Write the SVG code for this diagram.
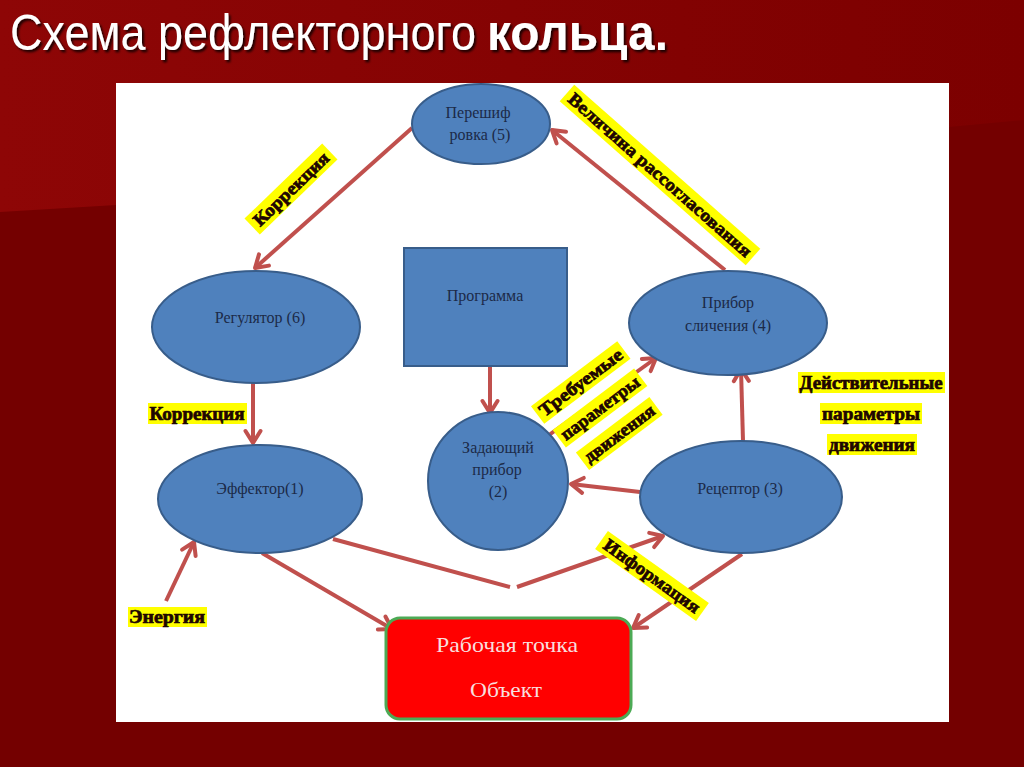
<svg xmlns="http://www.w3.org/2000/svg" width="1024" height="767" viewBox="0 0 1024 767">
<defs>
<linearGradient id="bgTop" x1="0" y1="0" x2="1" y2="0">
<stop offset="0" stop-color="#8e0606"/>
<stop offset="1" stop-color="#7c0000"/>
</linearGradient>
<marker id="ah" markerUnits="userSpaceOnUse" markerWidth="20" markerHeight="20" refX="15" refY="10" orient="auto" viewBox="0 0 20 20">
<path d="M3,2.5 L15,10 L3,17.5" fill="none" stroke="#c0504d" stroke-width="4" stroke-linecap="round" stroke-linejoin="round"/>
</marker>
<filter id="tsh" x="-5%" y="-20%" width="110%" height="140%">
<feDropShadow dx="2" dy="2" stdDeviation="1" flood-color="#000" flood-opacity="0.8"/>
</filter>
</defs>
<style>
.ell{fill:#4f81bd;stroke:#385d8a;stroke-width:2}
.nt{font-family:"Liberation Serif",serif;font-size:16px;fill:#1c2a48;text-anchor:middle}
.conn{fill:none;stroke:#c0504d;stroke-width:4}
.hl{fill:#ffff00}
.lb{font-family:"Liberation Serif",serif;font-weight:bold;font-size:18px;fill:#1e0600;stroke:#1e0600;stroke-width:0.7;text-anchor:middle}
.title{font-family:"Liberation Sans",sans-serif;font-size:45px;fill:#ffffff}
</style>
<rect x="0" y="0" width="1024" height="767" fill="#740000"/>
<polygon points="0,0 1024,0 1024,120 116,205 0,212" fill="url(#bgTop)"/>
<rect x="116" y="83" width="833" height="639" fill="#ffffff"/>

<g id="title" filter="url(#tsh)" transform="translate(0,50) scale(1,1.12)">
<text class="title" x="10" y="0">Схема рефлекторного</text>
<text class="title" x="487" y="0" font-weight="bold" textLength="181" lengthAdjust="spacingAndGlyphs">кольца.</text>
</g>

<g id="connectors">
<path class="conn" d="M412,128 L255,268" marker-end="url(#ah)"/>
<path class="conn" d="M725,270 L552,130" marker-end="url(#ah)"/>
<path class="conn" d="M253,383 L253,443" marker-end="url(#ah)"/>
<path class="conn" d="M490,366 L490,413" marker-end="url(#ah)"/>
<path class="conn" d="M549,435 L656,358" marker-end="url(#ah)"/>
<path class="conn" d="M743,441 L741,369" marker-end="url(#ah)"/>
<path class="conn" d="M640,492 L571,484" marker-end="url(#ah)"/>
<path class="conn" d="M333,539 L510,587"/>
<path class="conn" d="M517,587 L663,536" marker-end="url(#ah)"/>
<path class="conn" d="M262,553 L392,629" marker-end="url(#ah)"/>
<path class="conn" d="M742,554 L633,628" marker-end="url(#ah)"/>
<path class="conn" d="M166,601 L194,542" marker-end="url(#ah)"/>
</g>

<g id="node5">
<ellipse class="ell" cx="481" cy="124" rx="69" ry="40"/>
<text class="nt" x="478" y="118">Перешиф</text>
<text class="nt" x="480" y="140">ровка (5)</text>
</g>
<g id="node6">
<ellipse class="ell" cx="256" cy="327" rx="104" ry="56"/>
<text class="nt" x="260" y="323">Регулятор (6)</text>
</g>
<g id="program">
<rect x="404" y="248" width="163" height="118" fill="#4f81bd" stroke="#385d8a" stroke-width="2"/>
<text class="nt" x="485" y="301">Программа</text>
</g>
<g id="node4">
<ellipse class="ell" cx="728" cy="323" rx="99" ry="52"/>
<text class="nt" x="728" y="308">Прибор</text>
<text class="nt" x="728" y="331">сличения (4)</text>
</g>
<g id="node1">
<ellipse class="ell" cx="260" cy="499" rx="102" ry="54"/>
<text class="nt" x="260" y="494">Эффектор(1)</text>
</g>
<g id="node2">
<ellipse class="ell" cx="498" cy="481" rx="70" ry="69"/>
<text class="nt" x="498" y="453">Задающий</text>
<text class="nt" x="497" y="475">прибор</text>
<text class="nt" x="498" y="497">(2)</text>
</g>
<g id="node3">
<ellipse class="ell" cx="741" cy="497" rx="101" ry="56"/>
<text class="nt" x="740" y="494">Рецептор (3)</text>
</g>
<g id="object">
<rect x="386" y="618" width="245" height="101" rx="14" fill="#ff0000" stroke="#4caa55" stroke-width="3"/>
<text x="507" y="652" font-family="Liberation Serif, serif" font-size="22" fill="#f8dede" text-anchor="middle" textLength="142" lengthAdjust="spacingAndGlyphs">Рабочая точка</text>
<text x="506" y="697" font-family="Liberation Serif, serif" font-size="22" fill="#f8dede" text-anchor="middle" textLength="72" lengthAdjust="spacingAndGlyphs">Объект</text>
</g>

<g id="labels">
<g transform="translate(291,189) rotate(-44)">
<rect class="hl" x="-54" y="-11" width="108" height="22"/>
<text class="lb" x="0" y="6" textLength="98" lengthAdjust="spacingAndGlyphs">Коррекция</text>
</g>
<g transform="translate(660,175) rotate(41.4)">
<rect class="hl" x="-124" y="-11" width="248" height="22"/>
<text class="lb" x="0" y="6" textLength="238" lengthAdjust="spacingAndGlyphs">Величина рассогласования</text>
</g>
<g transform="translate(600,408) rotate(-37)">
<rect class="hl" x="-54" y="-43" width="108" height="22"/>
<text class="lb" x="0" y="-26" textLength="100" lengthAdjust="spacingAndGlyphs">Требуемые</text>
<rect class="hl" x="-51" y="-11" width="102" height="22"/>
<text class="lb" x="0" y="6" textLength="94" lengthAdjust="spacingAndGlyphs">параметры</text>
<rect class="hl" x="-46" y="21" width="92" height="22"/>
<text class="lb" x="0" y="38" textLength="84" lengthAdjust="spacingAndGlyphs">движения</text>
</g>
<g transform="translate(652,576) rotate(35.5)">
<rect class="hl" x="-62" y="-11" width="124" height="22"/>
<text class="lb" x="0" y="6" textLength="114" lengthAdjust="spacingAndGlyphs">Информация</text>
</g>
<rect class="hl" x="148" y="403" width="99" height="21"/>
<text class="lb" x="197" y="420" textLength="95" lengthAdjust="spacingAndGlyphs">Коррекция</text>
<rect class="hl" x="128" y="607" width="79" height="20"/>
<text class="lb" x="167" y="623" textLength="76" lengthAdjust="spacingAndGlyphs">Энергия</text>
<rect class="hl" x="798" y="372" width="147" height="21"/>
<text class="lb" x="871" y="389" textLength="143" lengthAdjust="spacingAndGlyphs">Действительные</text>
<rect class="hl" x="820" y="403" width="102" height="21"/>
<text class="lb" x="871" y="420" textLength="98" lengthAdjust="spacingAndGlyphs">параметры</text>
<rect class="hl" x="827" y="434" width="90" height="21"/>
<text class="lb" x="872" y="451" textLength="86" lengthAdjust="spacingAndGlyphs">движения</text>
</g>
</svg>
